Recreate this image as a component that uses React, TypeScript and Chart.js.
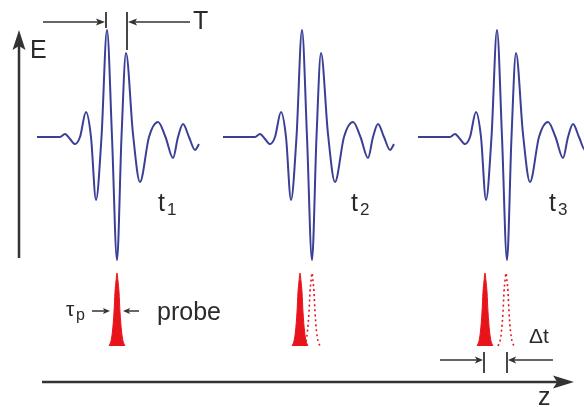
import React, { useEffect, useRef } from "react";
import { Chart, registerables } from "chart.js";

Chart.register(...registerables);

// Waveform template (pulse 1): extrema and baseline crossings
const waveX = [60, 65, 70, 75, 80, 86, 91, 96, 101.5, 107, 112, 117, 121.5, 126, 133, 140, 149, 158, 165.5, 173, 178, 183, 189, 195, 199];
const waveY = [137, 134, 139, 144, 137, 112, 137, 200, 137, 30, 137, 260, 137, 53, 134, 182, 137, 122, 137, 158, 137, 124, 137, 150, 144];
const waveBaseY = 137;
const waveStarts = [37, 223, 418];
const pulseOffsets = [0, 195, 390];
const timeLabels = ["1", "2", "3"];

// Probe pulse shape (offsets from centre, y values)
const probeDX = [-8, -6, -4.5, -3, -2, -1, 0, 1, 2, 3, 4.5, 6, 8];
const probeY = [346, 341, 331, 312, 292, 281, 273, 281, 292, 312, 331, 341, 346];
const probeCenters = [117, 300, 485];
const delayedCenters = [312, 506];

// Annotation arrows [x1, y1, x2, y2, headLen, headWidth, lineWidth]
const arrows: number[][] = [
  [19, 258, 19, 30, 20, 13, 2.5],
  [42, 382, 574, 382, 21, 13, 2.5],
  [43, 22, 105, 22, 9, 7, 1.5],
  [190, 22, 128, 22, 9, 7, 1.5],
  [92, 311, 110, 311, 7, 6, 1.5],
  [139, 311, 123, 311, 7, 6, 1.5],
  [440, 360, 483, 360, 8, 7, 1.5],
  [553, 360, 508, 360, 8, 7, 1.5],
];
const ticks: number[][] = [
  [106, 12, 106, 28],
  [127, 12, 127, 50],
  [484, 352, 484, 373],
  [507, 352, 507, 373],
];

export default function App() {
  const ref = useRef<HTMLCanvasElement | null>(null);
  useEffect(() => {
    if (!ref.current) return;
    const datasets: any[] = [];
    pulseOffsets.forEach((off, i) => {
      const pts = [{ x: waveStarts[i], y: waveBaseY }];
      waveX.forEach((x, k) => pts.push({ x: x + off, y: waveY[k] }));
      datasets.push({
        data: pts,
        showLine: true,
        borderColor: "#3b3f96",
        borderWidth: 2,
        pointRadius: 0,
        cubicInterpolationMode: "monotone",
        fill: false,
      });
    });
    probeCenters.forEach((c) => {
      datasets.push({
        data: probeDX.map((d, k) => ({ x: c + d, y: probeY[k] })),
        showLine: true,
        borderColor: "#e8141c",
        backgroundColor: "#e8141c",
        borderWidth: 1,
        pointRadius: 0,
        cubicInterpolationMode: "monotone",
        fill: { value: 346 },
      });
    });
    delayedCenters.forEach((c) => {
      datasets.push({
        data: probeDX.map((d, k) => ({ x: c + d, y: probeY[k] })),
        showLine: true,
        borderColor: "#e8141c",
        borderWidth: 1.6,
        borderDash: [2, 3],
        pointRadius: 0,
        cubicInterpolationMode: "monotone",
        fill: false,
      });
    });

    const annot = {
      id: "annot",
      afterDatasetsDraw(chart: any) {
        const ctx = chart.ctx;
        const xs = chart.scales.x;
        const ys = chart.scales.y;
        const X = (v: number) => xs.getPixelForValue(v);
        const Y = (v: number) => ys.getPixelForValue(v);
        ctx.save();
        ctx.strokeStyle = "#333";
        ctx.fillStyle = "#333";
        ctx.lineCap = "butt";
        arrows.forEach(([x1, y1, x2, y2, hl, hw, lw]) => {
          const ax = X(x1), ay = Y(y1), bx = X(x2), by = Y(y2);
          const len = Math.hypot(bx - ax, by - ay);
          const ux = (bx - ax) / len, uy = (by - ay) / len;
          ctx.lineWidth = lw;
          ctx.beginPath();
          ctx.moveTo(ax, ay);
          ctx.lineTo(bx - ux * hl * 0.8, by - uy * hl * 0.8);
          ctx.stroke();
          ctx.beginPath();
          ctx.moveTo(bx, by);
          ctx.lineTo(bx - ux * hl - uy * hw / 2, by - uy * hl + ux * hw / 2);
          ctx.lineTo(bx - ux * hl * 0.8, by - uy * hl * 0.8);
          ctx.lineTo(bx - ux * hl + uy * hw / 2, by - uy * hl - ux * hw / 2);
          ctx.closePath();
          ctx.fill();
        });
        ctx.lineWidth = 1.8;
        ticks.forEach(([x1, y1, x2, y2]) => {
          ctx.beginPath();
          ctx.moveTo(X(x1), Y(y1));
          ctx.lineTo(X(x2), Y(y2));
          ctx.stroke();
        });
        const font = (s: number) => `${s}px "Liberation Sans", Arial, sans-serif`;
        ctx.fillStyle = "#2a2a2a";
        ctx.textBaseline = "alphabetic";
        ctx.textAlign = "left";
        ctx.font = font(25);
        ctx.fillText("E", X(30), Y(58));
        ctx.fillText("T", X(193), Y(29));
        ctx.fillText("z", X(538), Y(405));
        pulseOffsets.forEach((off, i) => {
          const dx = i === 1 ? -2 : i === 2 ? 1 : 0;
          ctx.font = font(25);
          ctx.fillText("t", X(158 + off + dx), Y(211));
          ctx.font = font(17);
          ctx.fillText(timeLabels[i], X(167 + off + dx), Y(215));
        });
        ctx.font = font(21);
        ctx.fillText("τ", X(66), Y(316));
        ctx.font = font(16);
        ctx.fillText("p", X(76), Y(320));
        ctx.font = font(25);
        ctx.fillText("probe", X(157), Y(320));
        ctx.font = font(21);
        ctx.fillText("Δt", X(529), Y(343));
        ctx.restore();
      },
    };

    const chart = new Chart(ref.current, {
      type: "scatter",
      data: { datasets },
      options: {
        animation: false,
        responsive: false,
        events: [],
        layout: { padding: 0 },
        plugins: { legend: { display: false }, tooltip: { enabled: false } },
        scales: {
          x: { type: "linear", min: 0, max: 584, display: false },
          y: { type: "linear", min: 0, max: 407, reverse: true, display: false },
        },
      },
      plugins: [annot],
    });
    return () => chart.destroy();
  }, []);
  return (
    <div style={{ position: "absolute", left: 0, top: 0, width: 584, height: 407, background: "#fff" }}>
      <canvas ref={ref} width={584} height={407} />
    </div>
  );
}
